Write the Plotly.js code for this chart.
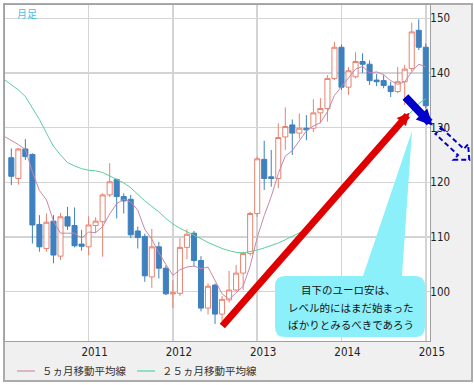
<!DOCTYPE html>
<html><head><meta charset="utf-8">
<script src="https://cdn.plot.ly/plotly-3.0.1.min.js"></script>
<style>
html,body{margin:0;padding:0;background:#fff;width:474px;height:385px;overflow:hidden;}
#frame{position:absolute;left:3px;top:3px;width:470px;height:379px;box-sizing:border-box;border:2px solid #ababab;background:#f0f0f0;}
#chart{position:absolute;left:0;top:0;width:474px;height:385px;}
</style></head><body>
<div id="frame"></div><div id="chart"></div>
<script>
// ---- data ----
const months = [
 '2010-01','2010-02','2010-03','2010-04','2010-05','2010-06','2010-07','2010-08','2010-09','2010-10','2010-11','2010-12',
 '2011-01','2011-02','2011-03','2011-04','2011-05','2011-06','2011-07','2011-08','2011-09','2011-10','2011-11','2011-12',
 '2012-01','2012-02','2012-03','2012-04','2012-05','2012-06','2012-07','2012-08','2012-09','2012-10','2012-11','2012-12',
 '2013-01','2013-02','2013-03','2013-04','2013-05','2013-06','2013-07','2013-08','2013-09','2013-10','2013-11','2013-12',
 '2014-01','2014-02','2014-03','2014-04','2014-05','2014-06','2014-07','2014-08','2014-09','2014-10','2014-11','2014-12',
 '2015-01'];
// candles: 2010-02 .. 2015-01
const openV = [
 124.5,120.7,126.1,125.1,112.3,107.9,112.9,106.5,113.7,112.1,108.7,
 108.2,112.1,112.8,117.7,120.5,117.4,116.9,111.1,110.1,102.7,108.2,104.3,
 99.6,99.7,108.1,110.7,105.7,97.0,101.2,95.9,98.5,100.3,103.4,107.0,
 114.3,124.2,121.0,120.7,128.3,130.5,129.0,129.9,129.9,132.7,133.5,139.0,
 144.7,137.4,139.3,142.1,141.6,138.7,138.6,137.6,136.6,138.4,140.8,147.8,
 144.7];
const highV = [
 126.2,126.3,127.9,125.3,114.0,114.3,114.0,114.4,115.5,115.4,111.3,
 113.8,113.6,118.0,123.5,120.7,118.0,117.7,111.9,110.6,111.5,109.1,104.8,
 102.1,109.8,111.4,111.1,106.5,101.5,101.5,99.2,103.8,104.9,107.3,114.6,
 124.7,127.6,125.9,130.8,133.7,131.5,132.6,132.3,135.2,135.4,139.6,145.7,
 145.2,141.1,143.8,143.6,142.3,139.8,139.6,138.4,141.1,141.5,149.2,149.8,
 145.4];
const lowV = [
 119.5,119.6,124.1,108.8,107.3,107.3,105.2,105.8,111.3,108.1,107.5,
 106.7,110.7,106.4,117.3,113.4,114.3,109.8,107.9,101.8,100.7,102.4,99.4,
 97.0,99.2,105.9,104.6,96.4,95.8,94.1,94.6,98.0,100.0,100.3,106.6,
 113.7,118.6,119.2,118.9,125.9,125.0,128.0,127.7,129.2,130.8,131.1,138.7,
 136.9,136.0,139.0,140.0,137.8,137.6,137.2,135.6,136.3,134.1,140.3,144.2,
 133.5];
const closeV = [
 121.1,126.1,124.7,112.2,108.2,112.7,106.7,113.7,112.0,108.4,108.3,
 112.2,112.9,117.7,120.1,117.4,116.6,110.4,109.9,102.9,108.2,104.3,99.6,
 99.8,108.1,110.5,105.7,97.0,101.0,95.9,98.6,100.3,103.4,107.0,114.3,
 124.3,120.7,120.7,128.2,130.2,129.0,129.9,129.6,132.7,133.5,139.0,144.7,
 137.4,140.4,142.1,141.6,138.6,138.4,137.7,136.6,138.4,140.7,147.5,144.7,
 134.0];
// moving averages: 2010-01 .. 2015-01
const ma5 = [
 128.4,127.7,126.9,126.0,121.9,118.5,116.8,112.9,110.7,110.7,110.7,109.8,
 110.9,110.8,111.9,114.2,116.1,116.9,116.4,114.9,111.4,109.6,107.1,105.0,
 103.0,104.0,104.5,104.7,104.2,104.5,102.0,99.6,98.6,99.8,101.0,104.7,
 109.9,113.9,117.4,121.6,124.8,125.8,127.6,129.4,130.3,130.9,132.9,135.9,
 137.5,139.0,140.7,141.2,140.0,140.2,139.7,138.6,137.9,138.4,140.2,141.6,
 141.1];
const ma25 = [
 138.8,137.9,136.9,135.7,133.6,131.5,129.0,126.6,125.0,123.6,123.0,122.5,
 122.2,122.1,121.8,121.2,120.6,119.9,119.0,117.8,116.6,115.6,114.6,113.4,
 112.4,111.6,111.0,110.4,109.7,109.0,108.4,107.9,107.5,107.2,107.1,107.3,
 107.6,108.0,108.4,108.9,109.5,110.1,110.8,111.4,112.8,114.2,115.6,117.0,
 118.5,120.0,121.4,122.9,124.3,125.8,127.2,128.7,130.2,131.6,133.2,134.4,
 135.3];
const yearTicks = ['2011-01','2012-01','2013-01','2014-01','2015-01'];
const yearLabels = ['2011','2012','2013','2014','2015'];
const priceTicks = [100,110,120,130,140,150];
const legendNames = ['５ヵ月移動平均線','２５ヵ月移動平均線'];
const periodLabel = '月足';
const noteLines = ['目下のユーロ安は、','レベル的にはまだ始まった','ばかりとみるべきであろう'];

// ---- build ----
const idx = m => months.indexOf(m);
const maX = months.map((m,i)=>i);
const candleX = months.slice(1).map(idx);

const L=5, T=5, W=425, H=336;
const px = X => (X-L)/W;
const py = Y => 1-(Y-T)/H;
const P = (X,Y) => px(X).toFixed(5)+','+py(Y).toFixed(5);

const tickFont = {family:"'DejaVu Sans Condensed','DejaVu Sans',sans-serif", size:11.5, color:'#222'};
const jpFont = {family:"'Noto Sans CJK JP',sans-serif", size:10.5, color:'#111'};

const traces = [
 {type:'candlestick', x:candleX, open:openV, high:highV, low:lowV, close:closeV,
  increasing:{line:{color:'#e8826e', width:1}, fillcolor:'#ffffff'},
  decreasing:{line:{color:'#3f80bf', width:1}, fillcolor:'#3f80bf'},
  whiskerwidth:0, hoverinfo:'skip'},
 {type:'scatter', mode:'lines', x:maX, y:ma25, line:{color:'#5ccf9c', width:1}, hoverinfo:'skip'},
 {type:'scatter', mode:'lines', x:maX, y:ma5, line:{color:'#c888a8', width:1}, hoverinfo:'skip'}
];

// bubble path (pixel geometry -> paper)
const bubble = 'M'+P(285,276)+'L'+P(363,276)+'L'+P(412,131)+'L'+P(402,276)+'L'+P(415,276)+
  'Q'+P(425,276)+' '+P(425,286)+'L'+P(425,327)+'Q'+P(425,337)+' '+P(415,337)+
  'L'+P(285,337)+'Q'+P(275,337)+' '+P(275,327)+'L'+P(275,286)+'Q'+P(275,276)+' '+P(285,276)+'Z';
const dashArrow = 'M'+P(441.2,127.7)+'L'+P(463.8,148.9)+'L'+P(468.1,144.3)+'L'+P(469.3,159.9)+
  'L'+P(453.7,159.7)+'L'+P(458.0,155.1)+'L'+P(435.4,133.9)+'Z';

const shapes = [
 {type:'path', xref:'paper', yref:'paper', path:bubble, fillcolor:'#8cf0fa', line:{width:0}, layer:'above'},
 {type:'path', xref:'paper', yref:'paper', path:dashArrow, fillcolor:'rgba(0,0,0,0)', line:{color:'#0000cc', width:2, dash:'5px,3px'}, layer:'above'},
 {type:'line', xref:'paper', yref:'paper', x0:px(17), x1:px(35), y0:py(371), y1:py(371), line:{color:'#d9a0b8', width:1.5}},
 {type:'line', xref:'paper', yref:'paper', x0:px(137), x1:px(155), y0:py(371), y1:py(371), line:{color:'#6fdcb0', width:1.5}}
];

const annotations = [
 {x:57.67, y:132.71, ax:30.85, ay:93.45, xref:'x', yref:'y', axref:'x', ayref:'y', text:'', showarrow:true,
  arrowhead:2, arrowsize:0.35, arrowwidth:7, arrowcolor:'#e00000', standoff:0},
 {x:60.96, y:130.39, ax:56.9, ay:135.88, xref:'x', yref:'y', axref:'x', ayref:'y', text:'', showarrow:true,
  arrowhead:2, arrowsize:0.4, arrowwidth:8, arrowcolor:'#0000cc', standoff:0},
 {xref:'paper', yref:'paper', x:px(26.5), y:py(13.8), text:periodLabel, showarrow:false, xanchor:'center', yanchor:'middle',
  font:{family:"'Noto Sans CJK JP',sans-serif", size:10, color:'#45c0f0'}},
 {xref:'paper', yref:'paper', x:px(348.5), y:py(289), text:noteLines[0], showarrow:false, xanchor:'center', yanchor:'middle', font:jpFont},
 {xref:'paper', yref:'paper', x:px(351), y:py(307), text:noteLines[1], showarrow:false, xanchor:'center', yanchor:'middle', font:jpFont},
 {xref:'paper', yref:'paper', x:px(351), y:py(324), text:noteLines[2], showarrow:false, xanchor:'center', yanchor:'middle', font:jpFont},
 {xref:'paper', yref:'paper', x:px(40), y:py(371), text:legendNames[0], showarrow:false, xanchor:'left', yanchor:'middle',
  font:{family:"'Noto Sans CJK JP',sans-serif", size:10.5, color:'#333'}},
 {xref:'paper', yref:'paper', x:px(160), y:py(371), text:legendNames[1], showarrow:false, xanchor:'left', yanchor:'middle',
  font:{family:"'Noto Sans CJK JP',sans-serif", size:10.5, color:'#333'}}
];

const layout = {
 width:474, height:385,
 margin:{l:L, r:474-L-W, t:T, b:385-T-H, pad:0},
 paper_bgcolor:'rgba(0,0,0,0)', plot_bgcolor:'#ffffff',
 showlegend:false,
 boxgap:0.1, boxgroupgap:0.2,
 xaxis:{type:'linear', range:[0.1,60.6], tickmode:'array', tickvals:yearTicks.map(idx), ticktext:yearLabels,
   showgrid:true, gridcolor:'#d4d4d4', gridwidth:1.5, zeroline:false, showline:true, mirror:true,
   linecolor:'#a0a0a0', linewidth:1, ticks:'', ticklabelshift:6, tickfont:tickFont,
   rangeslider:{visible:false}, fixedrange:true},
 yaxis:{side:'right', range:[90.98,152.43], tickmode:'array', tickvals:priceTicks,
   showgrid:true, gridcolor:'#d4d4d4', gridwidth:1.5, zeroline:false, showline:true, mirror:true,
   linecolor:'#a0a0a0', linewidth:1, ticks:'', ticklabelstandoff:-3, tickfont:tickFont, fixedrange:true},
 shapes:shapes, annotations:annotations
};

Plotly.newPlot('chart', traces, layout, {staticPlot:true, displayModeBar:false});
</script>
</body></html>
